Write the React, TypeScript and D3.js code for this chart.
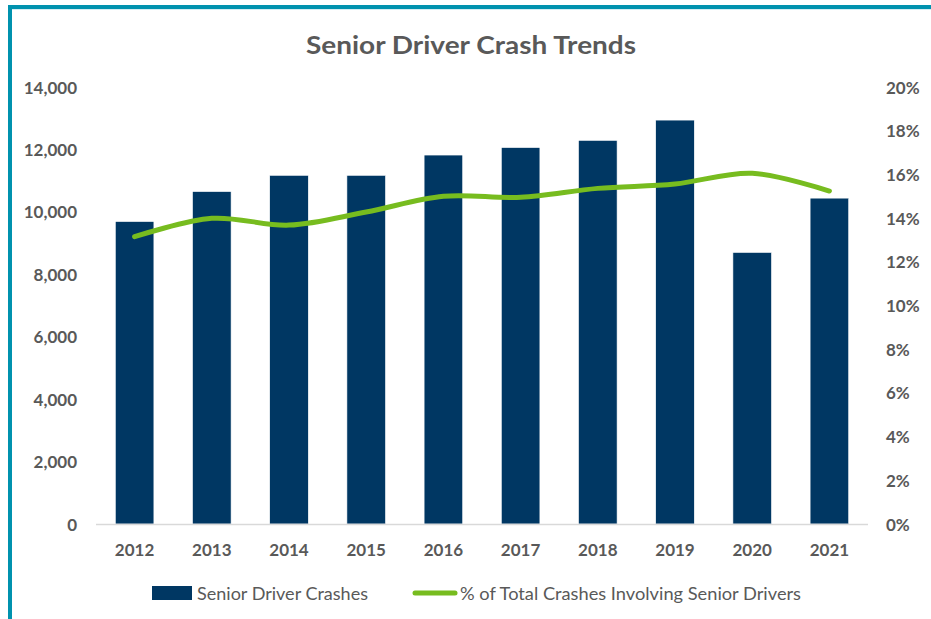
import React from "react";
import * as d3 from "d3";

const years = ["2012", "2013", "2014", "2015", "2016", "2017", "2018", "2019", "2020", "2021"];
const crashes = [9690, 10650, 11170, 11170, 11820, 12060, 12290, 12940, 8700, 10440];
const pctSenior = [13.15, 13.99, 13.68, 14.28, 15.0, 14.95, 15.36, 15.56, 16.05, 15.24];
const leftTicks = [0, 2000, 4000, 6000, 8000, 10000, 12000, 14000];
const rightTicks = [0, 2, 4, 6, 8, 10, 12, 14, 16, 18, 20];
const title = "Senior Driver Crash Trends";
const legendBar = "Senior Driver Crashes";
const legendLine = "% of Total Crashes Involving Senior Drivers";

const W = 931;
const H = 619;
const plotLeft = 96;
const plotRight = 868;
const plotTop = 87;
const plotBottom = 524;
const FONT = "Lato, 'Open Sans', sans-serif";
const TXT = "#595959";
const NAVY = "#003763";
const GREEN = "#77BC1F";
const TEAL = "#0092AE";

export default function App() {
  const x = d3.scaleBand<string>().domain(years).range([plotLeft, plotRight]).paddingInner(0.5).paddingOuter(0.25);
  const yL = d3.scaleLinear().domain([0, 14000]).range([plotBottom, plotTop]);
  const yR = d3.scaleLinear().domain([0, 20]).range([plotBottom, plotTop]);
  const fmt = d3.format(",");
  const line = d3
    .line<number>()
    .x((_, i) => (x(years[i]) as number) + x.bandwidth() / 2)
    .y((d) => yR(d))
    .curve(d3.curveCardinal.tension(0));

  return (
    <svg
      width={W}
      height={H}
      viewBox={`0 0 ${W} ${H}`}
      style={{ position: "absolute", left: 0, top: 0, display: "block", background: "#fff" }}
    >
      <rect x={0} y={0} width={W} height={H} fill="#fff" />
      <line x1={12} x2={W} y1={9.5} y2={9.5} stroke="#d4edf3" strokeWidth={1} />
      <line x1={8} x2={W} y1={7} y2={7} stroke={TEAL} strokeWidth={4} />
      <line x1={10} x2={10} y1={5} y2={H} stroke={TEAL} strokeWidth={4} />

      <text
        x={471}
        y={44}
        textAnchor="middle"
        dominantBaseline="central"
        fontFamily={FONT}
        fontWeight={700}
        fontSize={25}
        textLength={330}
        lengthAdjust="spacingAndGlyphs"
        fill={TXT}
      >
        {title}
      </text>

      {years.map((yr, i) => (
        <rect
          key={yr}
          x={x(yr)}
          y={yL(crashes[i])}
          width={x.bandwidth()}
          height={plotBottom - yL(crashes[i])}
          fill={NAVY}
          stroke="#ffffff"
          strokeWidth={0.6}
        />
      ))}

      <line x1={plotLeft} x2={plotRight} y1={plotBottom + 0.5} y2={plotBottom + 0.5} stroke="#d9d9d9" strokeWidth={1.3} />

      <path d={line(pctSenior) || ""} fill="none" stroke={GREEN} strokeWidth={5} strokeLinecap="round" />

      {leftTicks.map((t) => (
        <text
          key={"l" + t}
          x={77}
          y={yL(t)}
          textAnchor="end"
          dominantBaseline="central"
          fontFamily={FONT}
          fontWeight={700}
          fontSize={17}
          fill={TXT}
        >
          {fmt(t)}
        </text>
      ))}
      {rightTicks.map((t) => (
        <text
          key={"r" + t}
          x={886}
          y={yR(t)}
          textAnchor="start"
          dominantBaseline="central"
          fontFamily={FONT}
          fontWeight={700}
          fontSize={17}
          fill={TXT}
        >
          {t + "%"}
        </text>
      ))}
      {years.map((yr) => (
        <text
          key={"x" + yr}
          x={(x(yr) as number) + x.bandwidth() / 2}
          y={549}
          textAnchor="middle"
          dominantBaseline="central"
          fontFamily={FONT}
          fontWeight={700}
          fontSize={17}
          fill={TXT}
        >
          {yr}
        </text>
      ))}

      <rect x={152} y={586} width={40} height={14} fill={NAVY} />
      <text
        x={197}
        y={593}
        dominantBaseline="central"
        fontFamily={FONT}
        fontSize={18}
        textLength={171}
        lengthAdjust="spacingAndGlyphs"
        fill={TXT}
      >
        {legendBar}
      </text>
      <line x1={415} x2={455} y1={593} y2={593} stroke={GREEN} strokeWidth={5} strokeLinecap="round" />
      <text
        x={460}
        y={593}
        dominantBaseline="central"
        fontFamily={FONT}
        fontSize={18}
        textLength={341}
        lengthAdjust="spacingAndGlyphs"
        fill={TXT}
      >
        {legendLine}
      </text>
    </svg>
  );
}
